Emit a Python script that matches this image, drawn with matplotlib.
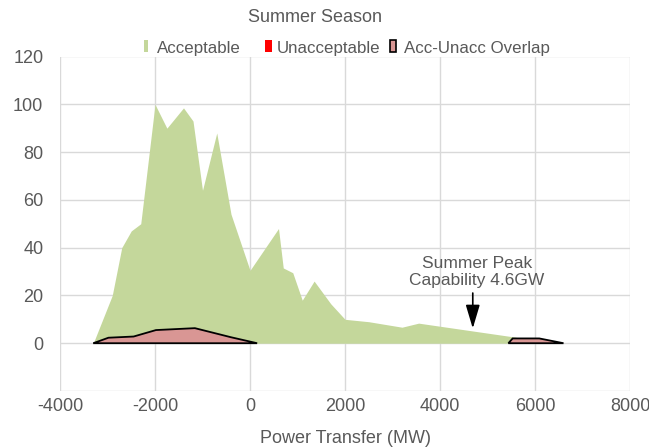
import matplotlib
matplotlib.use("Agg")
import matplotlib.pyplot as plt
from matplotlib.patches import Rectangle

plt.rcParams['font.family'] = ['Liberation Sans', 'DejaVu Sans']
plt.rcParams['axes.unicode_minus'] = False

# Data
acc_x = [-3300, -2900, -2700, -2500, -2300, -2000, -1750, -1400, -1200, -1000, -700,
         -400, 0, 600, 700, 900, 1100, 1350, 1700, 2000, 2500, 3200, 3550, 5600, 5650]
acc_y = [0, 20, 40, 47, 50, 100, 90, 98.5, 93, 64, 88,
         54, 30.5, 48, 31.5, 29.5, 18, 26, 16.5, 10, 9, 6.7, 8.4, 2.5, 0]

unacc_x = []
unacc_y = []

ovl1_x = [-3300, -2980, -2450, -1980, -1160, -400, 150]
ovl1_y = [0, 2.3, 2.8, 5.5, 6.3, 2.5, 0]
ovl2_x = [5440, 5530, 6090, 6600]
ovl2_y = [0, 2.0, 2.0, 0]

peak_x = 4690
peak_label = "Summer Peak\nCapability 4.6GW"

x_ticks = [-4000, -2000, 0, 2000, 4000, 6000, 8000]
y_ticks = [-20, 0, 20, 40, 60, 80, 100, 120]
y_tick_labels = ['', '0', '20', '40', '60', '80', '100', '120']

legend_labels = ['Acceptable', 'Unacceptable', 'Acc-Unacc Overlap']

GREEN = '#c4d79b'
PINK = '#d99694'
RED = '#ff0000'
GRAY = '#595959'
GRID = '#d9d9d9'

W, H = 649, 448
fig = plt.figure(figsize=(W/100, H/100), dpi=100)
ax = fig.add_axes([60/W, 1-391/H, 570/W, (391-56.5)/H])

ax.fill_between(acc_x, acc_y, 0, color=GREEN, lw=0, zorder=2)
if unacc_x:
    ax.fill_between(unacc_x, unacc_y, 0, color=RED, lw=0, zorder=2)
ax.fill(ovl1_x, ovl1_y, facecolor=PINK, edgecolor='black', lw=1.3, zorder=3)
ax.fill(ovl2_x, ovl2_y, facecolor=PINK, edgecolor='black', lw=1.3, zorder=3)

ax.set_xlim(-4000, 8000)
ax.set_ylim(-20, 120)
ax.set_xticks(x_ticks)
ax.set_yticks(y_ticks)
ax.set_yticklabels(y_tick_labels)
ax.grid(True, color=GRID, lw=1, zorder=0)
ax.set_axisbelow(True)
for s in ax.spines.values():
    s.set_visible(False)
ax.tick_params(axis='both', length=0, labelsize=13, labelcolor=GRAY)
ax.tick_params(axis='y', pad=12)
ax.tick_params(axis='x', pad=5)
ax.set_xlabel("Power Transfer (MW)", fontsize=13, color=GRAY, labelpad=11)

ax.annotate('', xy=(peak_x, 6.2), xytext=(peak_x, 21),
            arrowprops=dict(arrowstyle='-|>,head_length=1.44,head_width=0.43',
                            mutation_scale=10, color='black', lw=1.2,
                            shrinkA=0, shrinkB=0), zorder=5)
ax.text(4780, 23, peak_label, ha='center', va='bottom', fontsize=12.5,
        color=GRAY, linespacing=1.2, zorder=5)

fig.text(315.5/W, 1-18/H, "Summer Season", ha='center', va='center',
         fontsize=13, color=GRAY)

# Legend (manually placed, Excel-like)
marker_x = [144, 265, 390]
marker_w = [4.3, 7, 5.7]
text_x = [157, 277, 403.5]
faces = [GREEN, RED, PINK]
edges = ['none', 'none', 'black']
for mx, mw, tx, fc, ec, lab in zip(marker_x, marker_w, text_x, faces, edges, legend_labels):
    fig.add_artist(Rectangle((mx/W, 1-52/H), mw/W, 11.5/H, transform=fig.transFigure,
                             facecolor=fc, edgecolor=ec, lw=1.2))
    fig.text(tx/W, 1-52.7/H, lab, ha='left', va='baseline', fontsize=12.2, color=GRAY)

fig.savefig("out.png", dpi=100)
